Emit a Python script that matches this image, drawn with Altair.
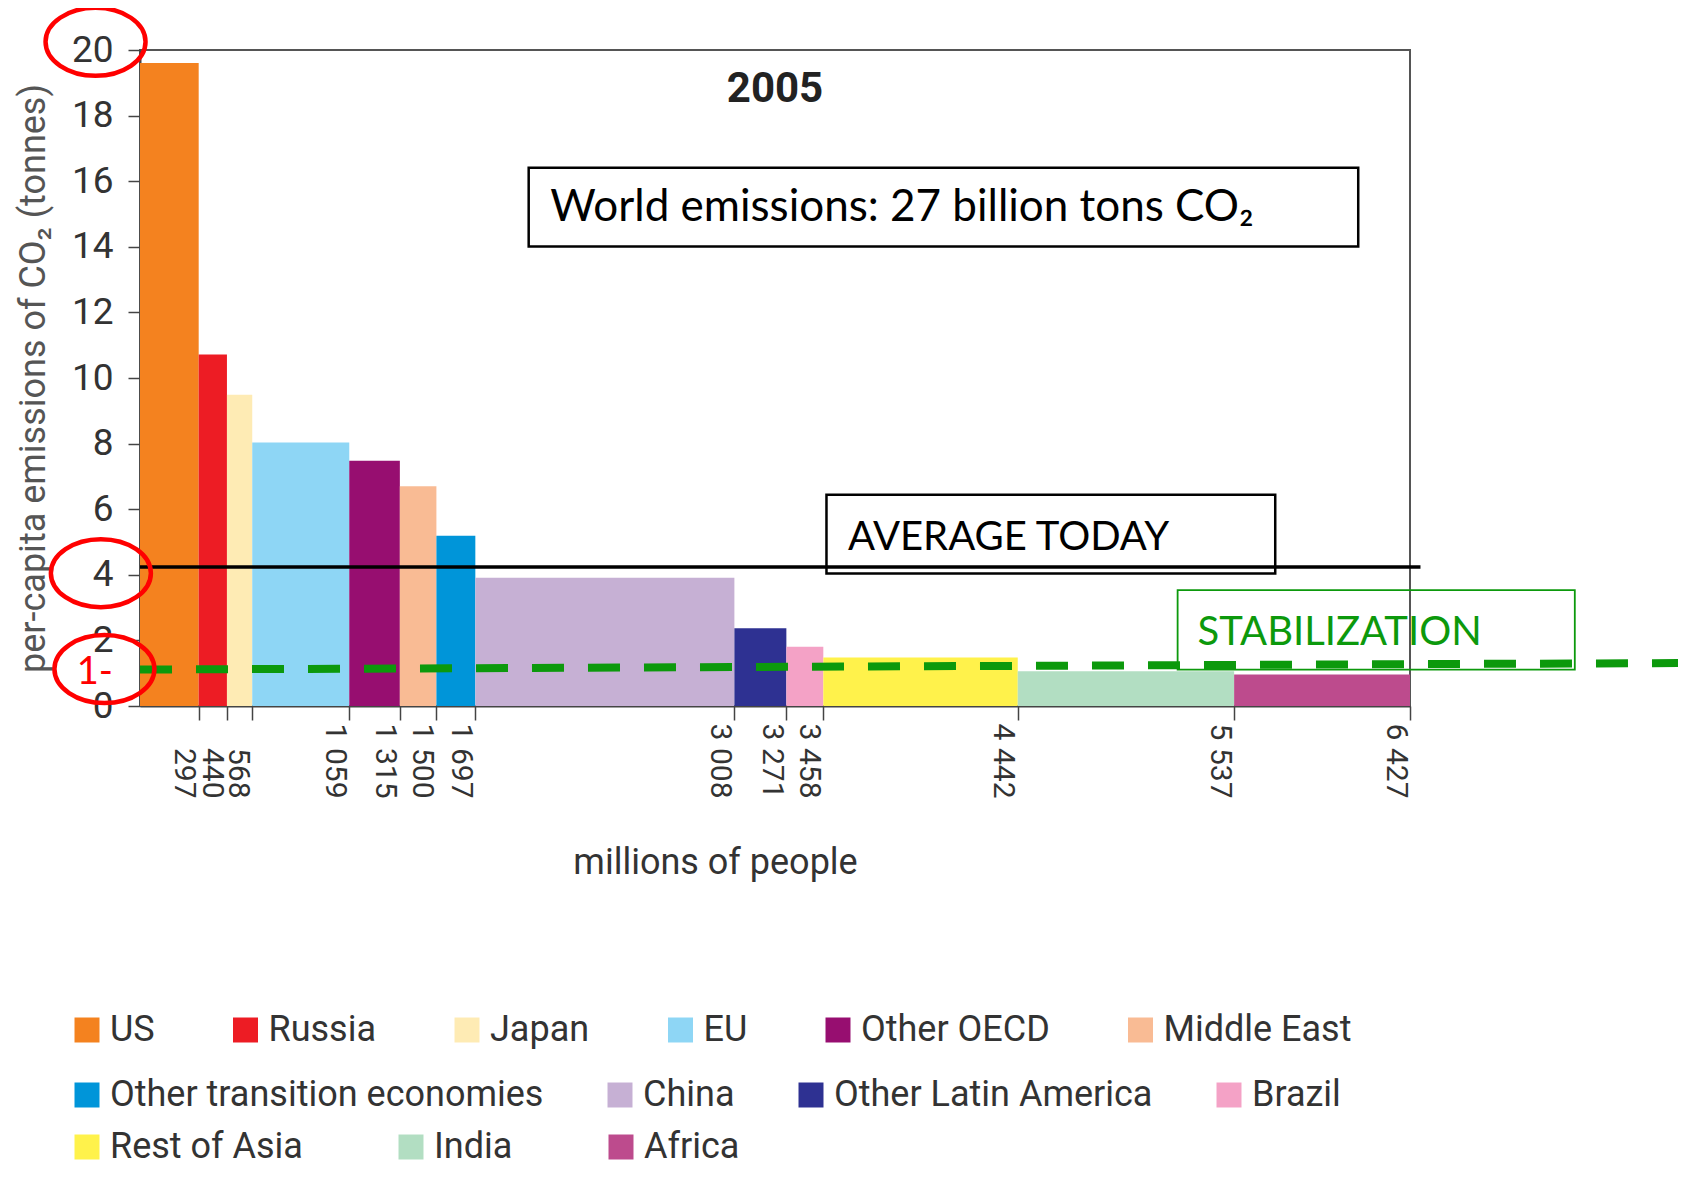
import altair as alt
import pandas as pd

# ---------------- data ----------------
regions = ["US", "Russia", "Japan", "EU", "Other OECD", "Middle East",
           "Other transition economies", "China", "Other Latin America", "Brazil",
           "Rest of Asia", "India", "Africa"]
pop_end = [297, 440, 568, 1059, 1315, 1500, 1697, 3008, 3271, 3458, 4442, 5537, 6427]
per_capita = [19.6, 10.72, 9.49, 8.03, 7.48, 6.70, 5.19, 3.91, 2.37, 1.81, 1.48, 1.06, 0.96]
bar_colors = ["#f4821f", "#ed1c24", "#feebb4", "#8ed6f5", "#970e70", "#f9bb94",
              "#0095d9", "#c6b0d4", "#2e3192", "#f4a2c6", "#fff24b", "#b2dec2", "#bd4b8d"]
legend_row_sizes = [6, 4, 3]

y_ticks = [0, 2, 4, 6, 8, 10, 12, 14, 16, 18, 20]
x_max = 6427

avg_emission = 4.24
avg_line_end = 6480
stab_x = [0, 7800]
stab_y = [1.11, 1.31]

box_labels = ["World emissions: 27 billion tons CO\u2082", "AVERAGE TODAY", "STABILIZATION"]
box_x = [1967, 3474, 5251]
box_x2 = [6165, 5745, 7261]
box_y = [14.01, 4.04, 1.11]
box_y2 = [16.41, 6.44, 3.53]
box_text_x = [2076, 3583, 5352]
box_text_y = [14.80, 4.76, 1.85]
box_text_size = [44, 40, 40]
box_colors = ["#000000", "#000000", "#0c990c"]
box_widths = [2.5, 2.5, 1.8]

year_label = ["2005"]
year_x = [3213.5]
year_y = [18.41]

circle_x = [-225, -198, -180]
circle_y = [20.25, 4.05, 1.125]
mark_label = ["1-"]
mark_x = [-320]
mark_y = [0.68]

# ---------------- tables ----------------
pop_start = [0] + pop_end[:-1]
rows = []
for i, n in enumerate(legend_row_sizes):
    rows += [i] * n
bars = pd.DataFrame({"region": regions, "start": pop_start, "end": pop_end,
                     "value": per_capita, "color": bar_colors, "row": rows})

X = alt.Scale(domain=[0, x_max], nice=False, zero=False)
Y = alt.Scale(domain=[0, 20], nice=False, zero=False)

x_axis = alt.Axis(values=pop_end, title="millions of people", labelAngle=90,
                  labelAlign="right", labelBaseline="top", labelPadding=78,
                  tickSize=14, labelFontSize=30,
                  labelExpr="replace(format(datum.value, ','), ',', ' ')",
                  labelOverlap=False, labelFlush=False, labelBound=False, grid=False,
                  titleX=575, titleY=167, titleBaseline="alphabetic", titleAlign="center",
                  titleFontSize=36, titleColor="#333333")
y_axis = alt.Axis(values=y_ticks, title="per-capita emissions of CO\u2082 (tonnes)",
                  tickSize=12, labelPadding=15, labelFontSize=37, grid=False,
                  titleFontSize=36, titleX=-96, titleY=328, titleBaseline="alphabetic",
                  titleColor="#555555", labelOverlap=False)


def xq(field):
    return alt.X(field, type="quantitative", scale=X, axis=x_axis)


def yq(field):
    return alt.Y(field, type="quantitative", scale=Y, axis=y_axis)


legend_y = [962, 1027, 1079]
legend_pad = [72.5, 58, 90]

layers = []
for k in range(3):
    sub = bars[bars.row == k]
    layers.append(
        alt.Chart(sub).mark_rect().encode(
            x=xq("start"),
            x2="end:Q",
            y=yq("value"),
            y2=alt.datum(0),
            color=alt.Color("region:N",
                            scale=alt.Scale(domain=list(sub.region), range=list(sub.color)),
                            legend=alt.Legend(title=None, orient="none", legendX=-71,
                                              legendY=legend_y[k], direction="horizontal",
                                              columns=len(sub), columnPadding=legend_pad[k],
                                              symbolType="square", symbolSize=625,
                                              symbolStrokeWidth=0, labelOffset=5,
                                              labelFont="Roboto",
                                              labelFontSize=36, labelColor="#333333",
                                              labelLimit=800, padding=0)),
        )
    )

boxes = pd.DataFrame({"x": box_x, "x2": box_x2, "y": box_y, "y2": box_y2,
                      "stroke": box_colors, "sw": box_widths})
box_layer = alt.Chart(boxes).mark_rect(fillOpacity=0).encode(
    x=xq("x"), x2="x2:Q",
    y=yq("y"), y2="y2:Q",
    stroke=alt.Color("stroke:N", scale=None),
    strokeWidth=alt.StrokeWidth("sw:Q", scale=None),
)

box_text = pd.DataFrame({"x": box_text_x, "y": box_text_y, "t": box_labels,
                         "c": box_colors, "fs": box_text_size})
box_text_layer = alt.Chart(box_text).mark_text(
    align="left", baseline="alphabetic", font="Lato"
).encode(
    x=xq("x"), y=yq("y"),
    text="t:N", color=alt.Color("c:N", scale=None),
    size=alt.Size("fs:Q", scale=None),
)

year_df = pd.DataFrame({"x": year_x, "y": year_y, "t": year_label})
year_layer = alt.Chart(year_df).mark_text(
    align="center", baseline="alphabetic", font="Roboto", fontWeight="bold",
    fontSize=42, color="#222222"
).encode(x=xq("x"), y=yq("y"), text="t:N")

avg_df = pd.DataFrame({"x": [0], "x2": [avg_line_end], "y": [avg_emission]})
avg_layer = alt.Chart(avg_df).mark_rule(color="black", strokeWidth=3.5).encode(
    x=xq("x"), x2="x2:Q", y=yq("y"))

stab_df = pd.DataFrame({"x": [stab_x[0]], "x2": [stab_x[1]], "y": [stab_y[0]], "y2": [stab_y[1]]})
stab_layer = alt.Chart(stab_df).mark_rule(
    color="#0c990c", strokeWidth=8, strokeDash=[32, 24], strokeCap="butt"
).encode(x=xq("x"), x2="x2:Q", y=yq("y"), y2="y2:Q")

ELLIPSE = "M -1 0 A 1 0.68 0 1 1 1 0 A 1 0.68 0 1 1 -1 0 Z"
circ_df = pd.DataFrame({"x": circle_x, "y": circle_y})
circ_layer = alt.Chart(circ_df).mark_point(
    shape=ELLIPSE, size=10000, filled=False, color="#ff0000", strokeWidth=4.5, opacity=1
).encode(x=xq("x"), y=yq("y"))

mark_df = pd.DataFrame({"x": mark_x, "y": mark_y, "t": mark_label})
mark_layer = alt.Chart(mark_df).mark_text(
    align="left", baseline="alphabetic", font="Lato", fontSize=38, color="#ff0000"
).encode(x=xq("x"), y=yq("y"), text="t:N")

chart = alt.layer(
    *layers, box_layer, box_text_layer, year_layer, avg_layer, stab_layer,
    circ_layer, mark_layer
).resolve_scale(color="independent").properties(
    width=1270, height=656,
    autosize=alt.AutoSizeParams(type="none"),
    padding={"left": 132, "top": 42, "right": 268, "bottom": 460},
).configure_view(
    stroke="#555555", strokeWidth=2
).configure_axis(
    domainColor="#444444", domainWidth=2, tickColor="#444444", tickWidth=1.5,
    labelColor="#333333", labelFont="Roboto", titleFont="Roboto", titleFontWeight="normal",
)

chart.save("out.html", embed_options={"renderer": "svg", "actions": False})
